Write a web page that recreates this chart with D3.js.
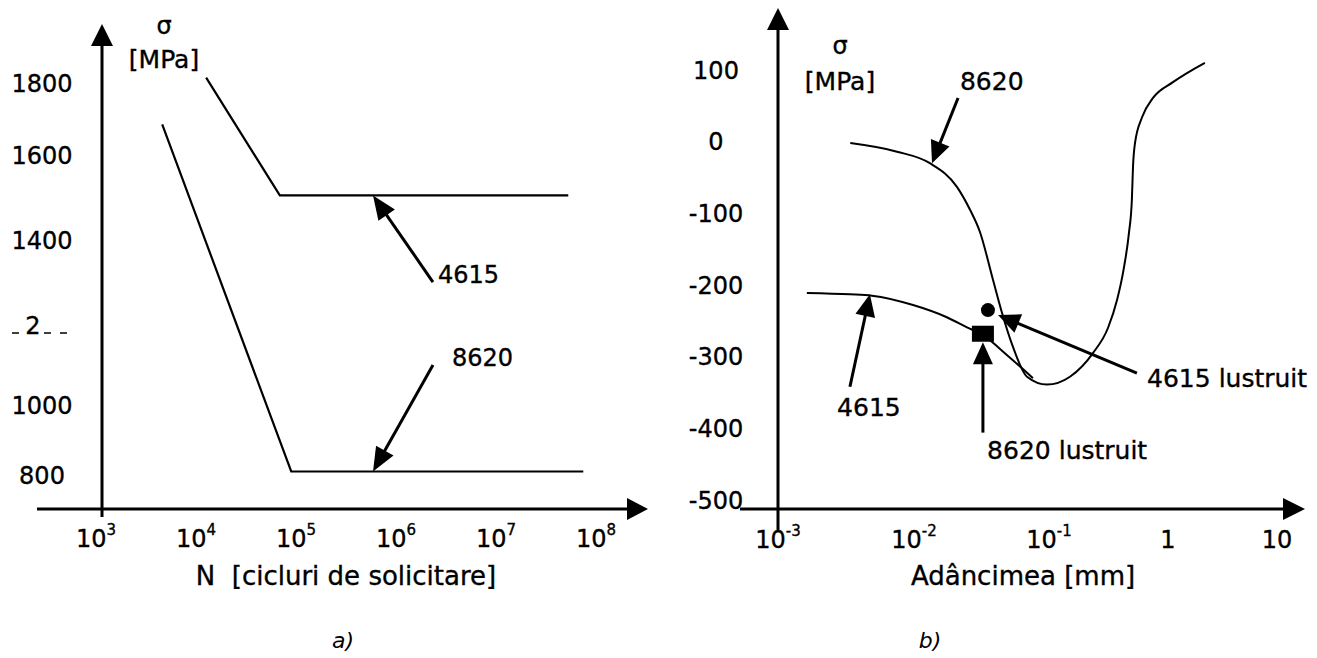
<!DOCTYPE html>
<html><head><meta charset="utf-8">
<script src="https://cdn.jsdelivr.net/npm/d3@7"></script>
<style>
html,body{margin:0;padding:0;background:#fff;overflow:hidden}
svg{display:block}
text{font-family:"DejaVu Sans",Verdana,sans-serif;fill:#000;stroke:#000;stroke-width:0.35px}
</style></head><body>
<svg id="chart" width="1317" height="658"></svg>
<script>
// ---- (a) fatigue strength vs number of cycles ----
const cyclesTicks = [1e3, 1e4, 1e5, 1e6, 1e7, 1e8];
const cyclesTickExp = ["3", "4", "5", "6", "7", "8"];
const stressTicksA = [800, 1000, 1200, 1400, 1600, 1800];
const stressTickLabelsA = ["800", "1000", "2", "1400", "1600", "1800"];
const cycles4615 = [11000, 60000, 4.6e7];
const stress4615 = [1815, 1505, 1505];
const cycles8620 = [4000, 78000, 6.5e7];
const stress8620 = [1685, 810, 810];
const notesA = ["4615", "8620"];
const notesATail = [[2.04e6, 1301], [2.04e6, 1100]];
const notesATip = [[5.13e5, 1505], [5.13e5, 810]];
const notesAText = [[2.29e6, 1318], [3.16e6, 1120]];

// ---- (b) residual stress vs depth ----
const depthTicks = [1e-3, 1e-2, 1e-1, 1, 10];
const depthTickBase = ["10", "10", "10", "1", "10"];
const depthTickExp = ["-3", "-2", "-1", "", ""];
const stressTicksB = [100, 0, -100, -200, -300, -400, -500];
const depth8620 = [0.0034, 0.0075, 0.0131, 0.0208, 0.026, 0.0308, 0.0385, 0.0449, 0.054, 0.0687, 0.0966, 0.15, 0.234, 0.313, 0.373, 0.427, 0.47, 0.497, 0.508, 0.528, 0.605, 0.748, 1.11, 2.18];
const resid8620 = [-2, -14, -30, -63, -95, -126, -193, -239, -286, -328, -339, -328, -295, -260, -221, -175, -127, -81, -35, -2, 34, 61, 83, 110];
const depth4615 = [0.00163, 0.00338, 0.00491, 0.00984, 0.0175, 0.0247, 0.0324, 0.0497, 0.076];
const resid4615 = [-211, -213, -215, -228, -245, -259, -270, -299, -330];
const polishedDepth = [0.0353, 0.0324];   // 4615 lustruit (circle), 8620 lustruit (square)
const polishedStress = [-235, -268];
const notesB = ["8620", "4615", "8620 lustruit", "4615 lustruit"];
const notesBTail = [[0.0212, 61], [0.00338, -342], [0.0324, -406], [0.548, -323]];
const notesBTip = [[0.0136, -30], [0.00474, -213], [0.0324, -280], [0.0419, -242]];
const notesBText = [[0.0219, 85], [0.00272, -370], [0.0348, -430], [0.667, -330]];

const svg = d3.select("#chart");

// line with a filled triangular head at (x2,y2)
function arrow(g, x1, y1, x2, y2, len, half, width) {
  const dx = x2 - x1, dy = y2 - y1, L = Math.hypot(dx, dy);
  const ux = dx / L, uy = dy / L;
  const bx = x2 - ux * len, by = y2 - uy * len;
  g.append("line")
    .attr("x1", x1).attr("y1", y1).attr("x2", bx + ux).attr("y2", by + uy)
    .attr("stroke", "#000").attr("stroke-width", width);
  g.append("path")
    .attr("d", `M${x2},${y2}L${bx - uy * half},${by + ux * half}L${bx + uy * half},${by - ux * half}Z`)
    .attr("fill", "#000");
}

// ================= panel (a) =================
const gA = svg.append("g");
const xA = d3.scaleLog().domain([1e3, 1e8]).range([102, 602]);
const yA = d3.scaleLinear().domain(stressTicksA).range([475, 405, 325, 240, 155, 83]);
const axisYA = 509;

// axes
arrow(gA, xA(1e3), 517, xA(1e3), 24, 22, 11, 3);
arrow(gA, 37, axisYA, 648, axisYA, 21, 11, 3);

// y tick labels
stressTicksA.forEach((v, i) => {
  const small = stressTickLabelsA[i].length < 3;
  gA.append("text")
    .attr("x", small ? 33 : 42).attr("y", yA(v)).attr("dy", "0.36em")
    .attr("text-anchor", "middle")
    .attr("font-size", 24)
    .text(stressTickLabelsA[i]);
  if (small) {
    gA.append("line")
      .attr("x1", 12).attr("x2", 67).attr("y1", yA(v) + 8).attr("y2", yA(v) + 8)
      .attr("stroke", "#000").attr("stroke-width", 1.3).attr("stroke-dasharray", "7,9");
  }
});

// x tick labels 10^k
cyclesTicks.forEach((v, i) => {
  const t = gA.append("text")
    .attr("x", xA(v) - 6).attr("y", 547)
    .attr("text-anchor", "middle").attr("font-size", 24);
  t.append("tspan").text("10");
  t.append("tspan").attr("font-size", 15).attr("dy", -12).text(cyclesTickExp[i]);
});

// axis titles
gA.append("text").attr("x", 164).attr("y", 34).attr("text-anchor", "middle")
  .attr("font-size", 24).text("σ");
gA.append("text").attr("x", 164).attr("y", 68).attr("text-anchor", "middle")
  .attr("font-size", 25).text("[MPa]");
gA.append("text").attr("x", 346).attr("y", 585).attr("text-anchor", "middle")
  .attr("font-size", 26).attr("xml:space", "preserve").text("N  [cicluri de solicitare]");

// S-N lines
const lineA = d3.line().x(d => xA(d[0])).y(d => yA(d[1]));
[[cycles4615, stress4615], [cycles8620, stress8620]].forEach(([xs, ys]) => {
  gA.append("path")
    .attr("d", lineA(xs.map((x, i) => [x, ys[i]])))
    .attr("fill", "none").attr("stroke", "#000").attr("stroke-width", 2.2);
});

// annotations
notesA.forEach((lab, i) => {
  arrow(gA, xA(notesATail[i][0]), yA(notesATail[i][1]), xA(notesATip[i][0]), yA(notesATip[i][1]), 24, 10, 3);
  gA.append("text").attr("x", xA(notesAText[i][0])).attr("y", yA(notesAText[i][1]))
    .attr("dy", "0.36em").attr("font-size", 24).text(lab);
});

gA.append("text").attr("x", 343).attr("y", 648).attr("text-anchor", "middle")
  .attr("font-family", "Liberation Serif, serif").attr("font-style", "italic")
  .attr("font-size", 22).style("stroke-width", "0").text("a)");

// ================= panel (b) =================
const gB = svg.append("g");
const xB = d3.scaleLog().domain(depthTicks).range([778, 914, 1049, 1168, 1277]);
const yB = d3.scaleLinear().domain([-500, 100]).range([500, 70]);
const axisYB = 509;

arrow(gB, xB(1e-3), 530, xB(1e-3), 8, 22, 11, 3);
arrow(gB, 740, axisYB, 1305, axisYB, 22, 11, 3);

stressTicksB.forEach(v => {
  gB.append("text")
    .attr("x", 716).attr("y", yB(v)).attr("dy", "0.36em")
    .attr("text-anchor", "middle").attr("font-size", 24)
    .text(v);
});

depthTicks.forEach((v, i) => {
  const t = gB.append("text")
    .attr("x", xB(v)).attr("y", 548)
    .attr("text-anchor", "middle").attr("font-size", 24);
  t.append("tspan").text(depthTickBase[i]);
  if (depthTickExp[i]) t.append("tspan").attr("font-size", 15).attr("dy", -12).text(depthTickExp[i]);
});

gB.append("text").attr("x", 840).attr("y", 54).attr("text-anchor", "middle")
  .attr("font-size", 24).text("σ");
gB.append("text").attr("x", 840).attr("y", 90).attr("text-anchor", "middle")
  .attr("font-size", 25).text("[MPa]");
gB.append("text").attr("x", 1023).attr("y", 585).attr("text-anchor", "middle")
  .attr("font-size", 26).text("Adâncimea [mm]");

const lineB = d3.line().x(d => xB(d[0])).y(d => yB(d[1])).curve(d3.curveMonotoneX);
[[depth8620, resid8620], [depth4615, resid4615]].forEach(([xs, ys]) => {
  gB.append("path")
    .attr("d", lineB(xs.map((x, i) => [x, ys[i]])))
    .attr("fill", "none").attr("stroke", "#000").attr("stroke-width", 2);
});

// polished specimens
gB.append("circle").attr("cx", xB(polishedDepth[0])).attr("cy", yB(polishedStress[0]))
  .attr("r", 7).attr("fill", "#000");
gB.append("rect").attr("x", xB(polishedDepth[1]) - 11).attr("y", yB(polishedStress[1]) - 8)
  .attr("width", 22).attr("height", 16).attr("fill", "#000");

notesB.forEach((lab, i) => {
  arrow(gB, xB(notesBTail[i][0]), yB(notesBTail[i][1]), xB(notesBTip[i][0]), yB(notesBTip[i][1]), 22, 10, 3);
  gB.append("text").attr("x", xB(notesBText[i][0])).attr("y", yB(notesBText[i][1]))
    .attr("dy", "0.36em").attr("font-size", 25).text(lab);
});

gB.append("text").attr("x", 930).attr("y", 648).attr("text-anchor", "middle")
  .attr("font-family", "Liberation Serif, serif").attr("font-style", "italic")
  .attr("font-size", 22).style("stroke-width", "0").text("b)");
</script>
</body></html>
